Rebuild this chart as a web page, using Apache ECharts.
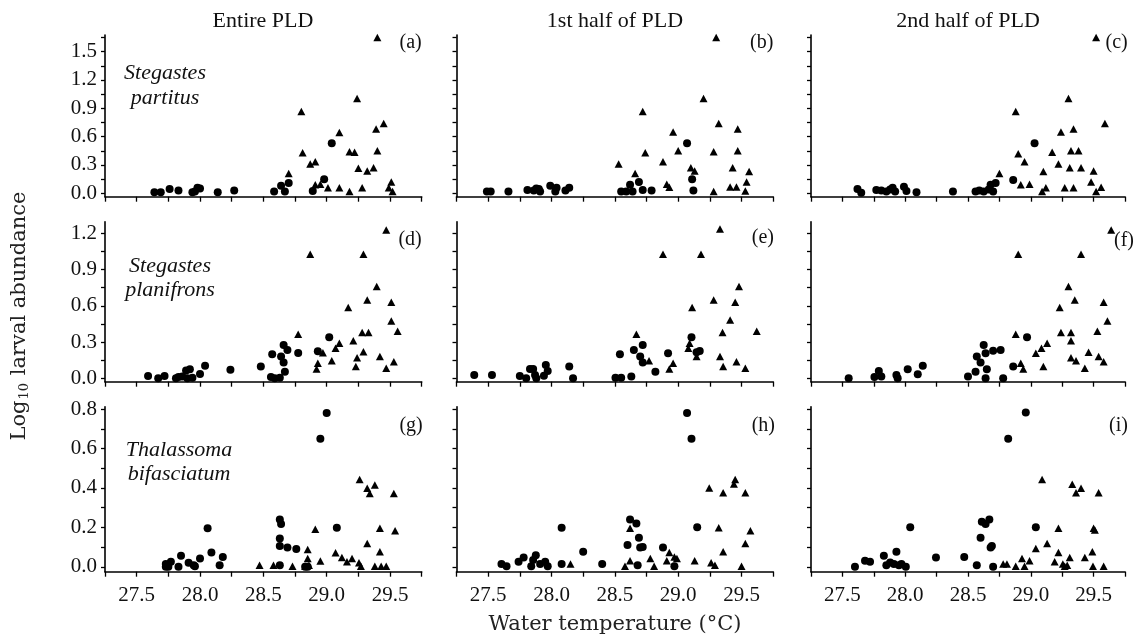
<!DOCTYPE html>
<html><head><meta charset="utf-8">
<script src="https://cdn.jsdelivr.net/npm/echarts@6/dist/echarts.min.js"></script>
<style>html,body{margin:0;padding:0;background:#fff}#c{width:1137px;height:640px}</style>
</head><body><div id="c"></div>
<script>
// ---- categories / text ----
const columnTitles = ['Entire PLD', '1st half of PLD', '2nd half of PLD'];
const speciesNames = [['Stegastes', 'partitus'], ['Stegastes', 'planifrons'], ['Thalassoma', 'bifasciatum']];
const panelLetters = ['(a)', '(b)', '(c)', '(d)', '(e)', '(f)', '(g)', '(h)', '(i)'];
const xAxisTitle = 'Water temperature (°C)';

// ---- tick values ----
const xTickLabels = [27.5, 28.0, 28.5, 29.0, 29.5];
const row1Ticks = [0, 0.15, 0.3, 0.45, 0.6, 0.75, 0.9, 1.05, 1.2, 1.35, 1.5, 1.65];
const row1Labels = [0, 0.3, 0.6, 0.9, 1.2, 1.5];
const row2Ticks = [0, 0.15, 0.3, 0.45, 0.6, 0.75, 0.9, 1.05, 1.2];
const row2Labels = [0, 0.3, 0.6, 0.9, 1.2];
const row3Ticks = [0, 0.1, 0.2, 0.3, 0.4, 0.5, 0.6, 0.7, 0.8];
const row3Labels = [0, 0.2, 0.4, 0.6, 0.8];

// ---- data: Stegastes partitus ----
const partitusEntireCircle = [[27.64,0.01],[27.69,0.01],[27.76,0.046],[27.83,0.03],[27.94,0.01],[27.96,0.02],[27.98,0.06],[28.00,0.05],[28.14,0.01],[28.27,0.03],[28.585,0.02],[28.64,0.08],[28.67,0.02],[28.70,0.11],[28.89,0.025],[28.98,0.15],[29.04,0.53]];
const partitusEntireTriangle = [[28.80,0.865],[28.81,0.43],[28.70,0.21],[28.87,0.31],[28.91,0.335],[28.91,0.09],[28.95,0.095],[29.01,0.06],[29.10,0.645],[29.10,0.06],[29.18,0.02],[29.18,0.44],[29.22,0.435],[29.24,1.005],[29.25,0.265],[29.28,0.06],[29.32,0.235],[29.37,0.27],[29.39,0.68],[29.45,0.74],[29.40,0.45],[29.40,1.65],[29.51,0.12],[29.49,0.06],[29.52,0.02]];
const partitusFirstCircle = [[27.49,0.02],[27.52,0.02],[27.66,0.02],[27.81,0.035],[27.86,0.03],[27.88,0.05],[27.90,0.045],[27.91,0.02],[27.99,0.08],[28.04,0.06],[28.03,0.02],[28.11,0.03],[28.14,0.06],[28.55,0.02],[28.59,0.02],[28.62,0.09],[28.64,0.02],[28.69,0.12],[28.72,0.035],[28.79,0.03],[29.07,0.53],[29.11,0.15],[29.12,0.03]];
const partitusFirstTriangle = [[28.53,0.31],[28.66,0.21],[28.72,0.865],[28.74,0.43],[28.88,0.335],[28.91,0.095],[28.93,0.065],[28.96,0.65],[29.00,0.45],[29.10,0.27],[29.13,0.235],[29.20,1.005],[29.28,0.02],[29.28,0.44],[29.30,1.65],[29.32,0.74],[29.41,0.067],[29.46,0.067],[29.43,0.27],[29.47,0.68],[29.47,0.45],[29.53,0.025],[29.54,0.12],[29.56,0.23]];
const partitusSecondCircle = [[27.62,0.046],[27.65,0.007],[27.77,0.035],[27.81,0.03],[27.85,0.02],[27.88,0.04],[27.90,0.06],[27.92,0.02],[27.99,0.07],[28.01,0.025],[28.09,0.01],[28.38,0.02],[28.56,0.02],[28.59,0.03],[28.625,0.02],[28.665,0.04],[28.68,0.09],[28.70,0.02],[28.72,0.11],[28.86,0.14],[29.03,0.53]];
const partitusSecondTriangle = [[28.75,0.21],[28.88,0.865],[28.90,0.42],[28.92,0.09],[28.95,0.335],[28.99,0.095],[29.09,0.02],[29.10,0.23],[29.12,0.06],[29.17,0.435],[29.22,0.31],[29.24,0.65],[29.27,0.06],[29.30,1.005],[29.31,0.27],[29.32,0.45],[29.34,0.68],[29.34,0.06],[29.38,0.45],[29.40,0.27],[29.48,0.12],[29.50,0.235],[29.52,0.02],[29.52,1.65],[29.56,0.065],[29.59,0.74]];

// ---- data: Stegastes planifrons ----
const planifronsEntireCircle = [[27.59,0.02],[27.67,0.0],[27.72,0.02],[27.81,0.0],[27.83,0.01],[27.86,0.015],[27.89,0.065],[27.92,0.075],[27.90,0.0],[27.94,0.005],[28.00,0.035],[28.04,0.105],[28.24,0.07],[28.48,0.097],[28.56,0.01],[28.59,0.0],[28.63,0.005],[28.57,0.2],[28.64,0.18],[28.66,0.275],[28.69,0.235],[28.66,0.13],[28.67,0.055],[28.775,0.21],[28.93,0.225],[29.02,0.34]];
const planifronsEntireTriangle = [[28.775,0.365],[28.87,1.026],[28.92,0.077],[28.93,0.124],[28.97,0.212],[29.04,0.146],[29.07,0.248],[29.10,0.29],[29.17,0.585],[29.21,0.31],[29.23,0.097],[29.24,0.17],[29.28,0.38],[29.29,1.026],[29.29,0.22],[29.32,0.648],[29.33,0.38],[29.395,0.759],[29.42,0.18],[29.47,1.228],[29.47,0.083],[29.51,0.629],[29.51,0.474],[29.53,0.138],[29.56,0.39]];
const planifronsFirstCircle = [[27.39,0.028],[27.53,0.028],[27.75,0.02],[27.80,0.0],[27.83,0.077],[27.855,0.077],[27.87,0.028],[27.88,0.0],[27.94,0.022],[27.955,0.11],[27.97,0.06],[28.14,0.097],[28.17,0.0],[28.505,0.005],[28.55,0.005],[28.54,0.2],[28.63,0.014],[28.65,0.234],[28.70,0.18],[28.72,0.276],[28.72,0.13],[28.82,0.055],[28.92,0.207],[29.105,0.34],[29.17,0.226],[29.145,0.215]];
const planifronsFirstTriangle = [[28.67,0.364],[28.77,0.146],[28.88,1.026],[28.93,0.077],[28.96,0.124],[29.08,0.248],[29.09,0.29],[29.11,0.585],[29.145,0.18],[29.18,1.026],[29.28,0.648],[29.33,0.18],[29.33,1.236],[29.35,0.38],[29.355,0.097],[29.41,0.483],[29.45,0.629],[29.46,0.138],[29.48,0.759],[29.53,0.083],[29.62,0.39]];
const planifronsSecondCircle = [[27.55,0.0],[27.755,0.01],[27.79,0.06],[27.81,0.014],[27.93,0.028],[27.94,0.0],[28.02,0.075],[28.10,0.033],[28.14,0.105],[28.50,0.014],[28.56,0.055],[28.57,0.18],[28.60,0.13],[28.625,0.276],[28.64,0.207],[28.65,0.075],[28.64,0.0],[28.70,0.229],[28.76,0.234],[28.78,0.0],[28.86,0.097],[28.97,0.34]];
const planifronsSecondTriangle = [[28.88,0.364],[28.90,1.026],[28.92,0.124],[28.94,0.077],[29.04,0.207],[29.085,0.248],[29.10,0.097],[29.13,0.29],[29.23,0.585],[29.24,0.38],[29.30,0.759],[29.32,0.38],[29.32,0.31],[29.32,0.17],[29.35,0.648],[29.36,0.146],[29.40,1.026],[29.43,0.083],[29.46,0.215],[29.53,0.39],[29.54,0.18],[29.58,0.629],[29.58,0.138],[29.61,0.474],[29.64,1.228]];

// ---- data: Thalassoma bifasciatum ----
const bifasciatumEntireCircle = [[27.73,0.014],[27.75,0.0],[27.77,0.025],[27.73,0.0],[27.83,0.0],[27.85,0.056],[27.91,0.02],[27.95,0.008],[27.96,0.003],[28.00,0.042],[28.06,0.195],[28.09,0.073],[28.155,0.008],[28.18,0.05],[28.63,0.24],[28.64,0.217],[28.63,0.144],[28.63,0.105],[28.69,0.098],[28.76,0.09],[28.63,0.008],[28.83,0.0],[28.85,0.0],[28.95,0.65],[29.00,0.78],[29.08,0.198]];
const bifasciatumEntireTriangle = [[28.47,0.008],[28.58,0.008],[28.73,0.003],[28.83,0.003],[28.85,0.088],[28.85,0.042],[28.86,0.008],[28.91,0.19],[28.95,0.029],[29.07,0.071],[29.12,0.047],[29.16,0.025],[29.20,0.042],[29.255,0.02],[29.27,0.003],[29.26,0.443],[29.32,0.118],[29.32,0.398],[29.34,0.372],[29.38,0.415],[29.38,0.003],[29.42,0.195],[29.42,0.076],[29.43,0.003],[29.47,0.003],[29.53,0.372],[29.54,0.183]];
const bifasciatumFirstCircle = [[27.605,0.014],[27.645,0.003],[27.74,0.025],[27.78,0.047],[27.84,0.003],[27.855,0.034],[27.876,0.059],[27.91,0.014],[27.95,0.025],[27.97,0.003],[28.08,0.198],[28.08,0.014],[28.25,0.076],[28.40,0.014],[28.60,0.11],[28.62,0.24],[28.67,0.22],[28.69,0.147],[28.70,0.098],[28.72,0.10],[28.68,0.008],[28.88,0.098],[28.97,0.003],[29.07,0.78],[29.105,0.65],[29.15,0.2]];
const bifasciatumFirstTriangle = [[28.15,0.014],[28.58,0.003],[28.62,0.195],[28.62,0.03],[28.78,0.042],[28.81,0.003],[28.91,0.03],[28.93,0.073],[28.97,0.05],[28.99,0.042],[29.13,0.03],[29.245,0.4],[29.26,0.02],[29.29,0.008],[29.32,0.198],[29.355,0.376],[29.355,0.076],[29.44,0.42],[29.45,0.443],[29.50,0.003],[29.53,0.118],[29.53,0.376],[29.57,0.183]];
const bifasciatumSecondCircle = [[27.60,0.0],[27.68,0.03],[27.72,0.025],[27.83,0.056],[27.85,0.008],[27.88,0.022],[27.91,0.014],[27.93,0.076],[27.95,0.008],[27.97,0.014],[28.005,0.0],[28.04,0.2],[28.245,0.047],[28.47,0.05],[28.57,0.008],[28.60,0.147],[28.61,0.228],[28.64,0.217],[28.67,0.24],[28.68,0.098],[28.69,0.105],[28.70,0.0],[28.82,0.65],[28.96,0.783],[29.04,0.2]];
const bifasciatumSecondTriangle = [[28.78,0.014],[28.81,0.014],[28.88,0.003],[28.93,0.042],[28.95,0.003],[28.99,0.03],[29.04,0.093],[29.09,0.443],[29.13,0.118],[29.19,0.025],[29.22,0.195],[29.22,0.073],[29.255,0.014],[29.27,0.003],[29.29,0.008],[29.31,0.047],[29.33,0.418],[29.36,0.376],[29.40,0.398],[29.43,0.047],[29.49,0.076],[29.50,0.195],[29.51,0.186],[29.495,0.003],[29.54,0.376],[29.58,0.003]];

// ---- assembly ----
const panelCircles = [partitusEntireCircle, partitusFirstCircle, partitusSecondCircle,
  planifronsEntireCircle, planifronsFirstCircle, planifronsSecondCircle,
  bifasciatumEntireCircle, bifasciatumFirstCircle, bifasciatumSecondCircle];
const panelTriangles = [partitusEntireTriangle, partitusFirstTriangle, partitusSecondTriangle,
  planifronsEntireTriangle, planifronsFirstTriangle, planifronsSecondTriangle,
  bifasciatumEntireTriangle, bifasciatumFirstTriangle, bifasciatumSecondTriangle];
const rowTicks = [row1Ticks, row2Ticks, row3Ticks];
const rowLabels = [row1Labels, row2Labels, row3Labels];

// layout (pixels)
const colLeft = [105, 456.5, 811];
const colWidth = [316.7, 316.7, 314];
const rowTop = [35, 221.7, 406.7];
const rowHeight = [161.7, 160, 165];
const rowRange = [[-0.036, 1.676], [-0.028, 1.296], [-0.025, 0.812]];

const SERIF = '"Liberation Serif", "Times New Roman", serif';
const grids = [], xAxes = [], yAxes = [], series = [];
for (let r = 0; r < 3; r++) {
  for (let c = 0; c < 3; c++) {
    const i = r * 3 + c;
    grids.push({left: colLeft[c], top: rowTop[r], width: colWidth[c], height: rowHeight[r]});
    xAxes.push({
      type: 'value', gridIndex: i, min: 27.25, max: 29.75, interval: 0.25,
      axisLine: {onZero: false, lineStyle: {color: '#000', width: 1.6}},
      axisTick: {show: true, length: 5, lineStyle: {color: '#000', width: 1.3}},
      axisLabel: {show: r === 2, interval: 0, margin: 13, color: '#111', fontFamily: SERIF, fontSize: 21,
        formatter: v => xTickLabels.some(t => Math.abs(t - v) < 1e-6) ? v.toFixed(1) : ''},
      splitLine: {show: false}
    });
    yAxes.push({
      type: 'value', gridIndex: i, min: rowRange[r][0], max: rowRange[r][1],
      axisLine: {show: true, onZero: false, lineStyle: {color: '#000', width: 1.6}},
      axisTick: {show: true, length: 4, customValues: rowTicks[r], lineStyle: {color: '#000', width: 1.3}},
      axisLabel: {show: c === 0, margin: 8, color: '#111', fontFamily: SERIF, fontSize: 21,
        customValues: rowLabels[r], formatter: v => v.toFixed(1)},
      splitLine: {show: false}
    });
    series.push({type: 'scatter', xAxisIndex: i, yAxisIndex: i, data: panelCircles[i],
      symbol: 'circle', symbolSize: 8, itemStyle: {color: '#000', opacity: 1}, silent: true});
    series.push({type: 'scatter', xAxisIndex: i, yAxisIndex: i, data: panelTriangles[i],
      symbol: 'triangle', symbolSize: [8, 7.5], itemStyle: {color: '#000', opacity: 1}, silent: true});
  }
}

const graphics = [];
const colCenters = [263, 615, 968];
columnTitles.forEach((t, c) => graphics.push({type: 'text', x: colCenters[c], y: 21,
  style: {text: t, font: '22px ' + SERIF, fill: '#111', textAlign: 'center', textVerticalAlign: 'middle'}}));
const letterPos = [[421.7, 42.5], [773.3, 42.5], [1127.7, 42.5], [421.7, 240], [774, 237.5], [1134, 240.5], [422.7, 425.5], [775, 425.5], [1128, 425.5]];
panelLetters.forEach((t, i) => graphics.push({type: 'text', x: letterPos[i][0], y: letterPos[i][1],
  style: {text: t, font: '20px ' + SERIF, fill: '#111', textAlign: 'right', textVerticalAlign: 'middle'}}));
const speciesPos = [[165, 73, 98], [170, 266, 290], [179, 450, 474]];
speciesNames.forEach((nm, r) => nm.forEach((w, k) => graphics.push({type: 'text', x: speciesPos[r][0], y: speciesPos[r][1 + k],
  style: {text: w, font: 'italic 22px ' + SERIF, fill: '#111', textAlign: 'center', textVerticalAlign: 'middle'}})));
graphics.push({type: 'text', x: 615, y: 625,
  style: {text: xAxisTitle, font: '21px "DejaVu Serif", serif', fill: '#222', textAlign: 'center', textVerticalAlign: 'middle'}});
graphics.push({type: 'text', x: 20, y: 316, rotation: Math.PI / 2,
  style: {text: '{a|Log}{b|10}{a| larval abundance}', textAlign: 'center', textVerticalAlign: 'middle', fill: '#222',
    rich: {a: {fontFamily: '"DejaVu Serif", serif', fontSize: 21, fill: '#222'},
           b: {fontFamily: '"DejaVu Serif", serif', fontSize: 13, fill: '#222', verticalAlign: 'bottom', padding: [9, 1, 0, 1]}}}});

const chart = echarts.init(document.getElementById('c'), null, {renderer: 'canvas'});
chart.setOption({
  backgroundColor: '#fff', animation: false,
  grid: grids, xAxis: xAxes, yAxis: yAxes, series: series, graphic: graphics
});
</script></body></html>
